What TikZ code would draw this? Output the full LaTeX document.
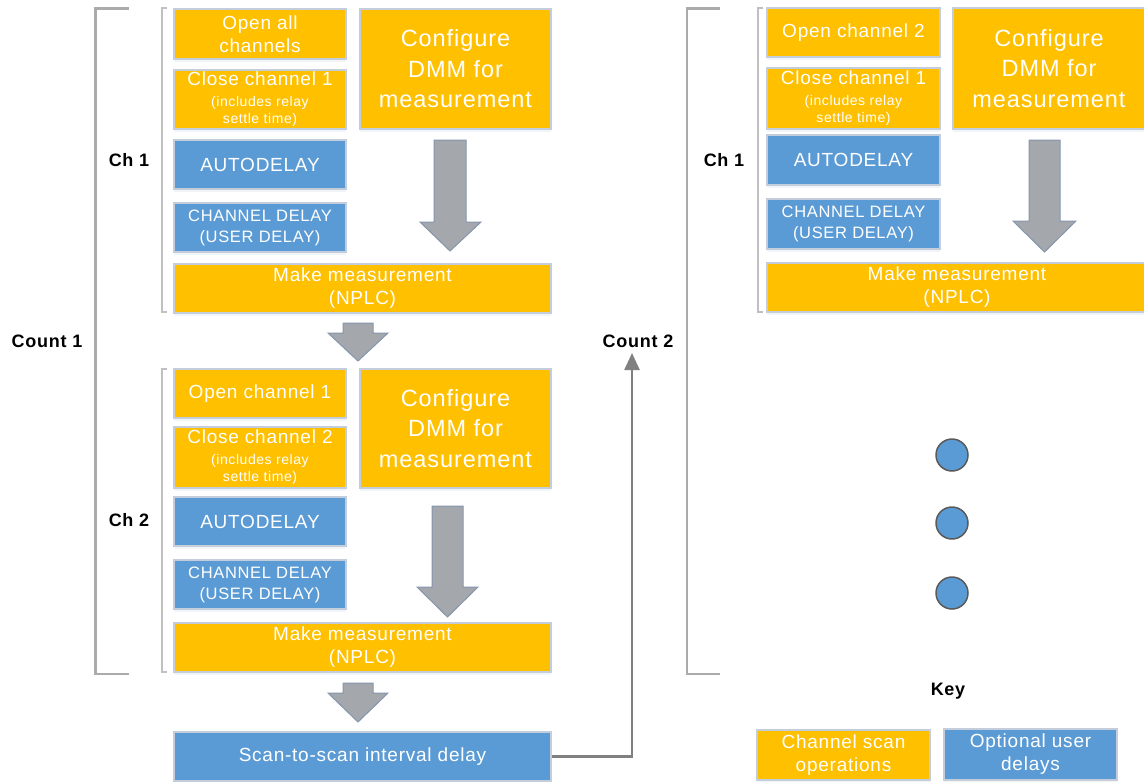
\documentclass[tikz,border=0pt]{standalone}
\usepackage{fontspec}
\setmainfont{Liberation Sans}[LetterSpace=4]
\usetikzlibrary{shadows,arrows.meta}
\definecolor{orng}{HTML}{FFC000}
\definecolor{blu}{HTML}{5B9BD5}
\definecolor{bord}{HTML}{C3CDDB}
\definecolor{arrfill}{HTML}{A4A7AB}
\definecolor{arrdraw}{HTML}{8496AE}
\definecolor{brk}{HTML}{ABABAB}
\definecolor{brklt}{HTML}{C0C0C0}
\definecolor{conn}{HTML}{808080}
\definecolor{dotdraw}{HTML}{5A5A5A}
\tikzset{
  basebox/.style={draw=bord, line width=1.5pt, text=white, align=center, inner sep=0pt,
    drop shadow={opacity=0.35, fill=bord!60, shadow xshift=0pt, shadow yshift=-2.5pt}},
  obox/.style={basebox, fill=orng},
  bbox/.style={basebox, fill=blu},
  ftmain/.style={font=\fontsize{19}{23}\selectfont},
  ftbig/.style={font=\fontsize{23.5}{30.5}\selectfont},
  ftcap/.style={font=\fontsize{16.5}{21}\selectfont},
  ftsmall/.style={font=\fontsize{14}{17}\selectfont},
  lbl/.style={font=\fontsize{18}{20}\selectfont\bfseries, text=black, inner sep=0pt},
  blockarrow/.style={fill=arrfill, draw=arrdraw, line width=1pt, line join=miter},
  brkline/.style={draw=brk, line width=2.5pt},
  brkthin/.style={draw=brklt, line width=2pt},
  dotc/.style={circle, fill=blu, draw=dotdraw, line width=1.5pt, minimum size=32pt, inner sep=0pt},
}
\begin{document}
\begin{tikzpicture}[x=1pt,y=-1pt]
\useasboundingbox (0,0) rectangle (1144,782);
\begin{scope}
\clip (0,0) rectangle (1144,782);
% ---- brackets ----
\draw[brkline] (129,8.5) -- (95.5,8.5) -- (95.5,674) -- (129,674);
\draw[brkthin] (167,8) -- (162,8) -- (162,312) -- (167,312);
\draw[brkthin] (167,369) -- (162,369) -- (162,672) -- (167,672);
\draw[brkline] (720,8.5) -- (687,8.5) -- (687,674) -- (720,674);
\draw[brkthin] (763,8) -- (758,8) -- (758,312) -- (763,312);

% ---- section 1 ----
\node[obox, ftmain, minimum width=172, minimum height=50] (open1) at (260,34) {Open all\\channels};
\node[obox, ftsmall, minimum width=172, minimum height=59] (close1) at (260,99.5)
  {{\fontsize{19}{23}\selectfont Close channel 1}\\[4pt](includes relay\\settle time)};
\node[bbox, ftmain, minimum width=172, minimum height=49] (auto1) at (260,164.5) {AUTODELAY};
\node[bbox, ftcap, minimum width=172, minimum height=49] (chd1) at (260,227.5) {CHANNEL DELAY\\(USER DELAY)};
\node[obox, ftmain, minimum width=377, minimum height=49] (make1) at (362.5,288.5) {Make measurement\\(NPLC)};
\node[obox, ftbig, minimum width=191, minimum height=120] (conf1) at (455.5,69) {Configure\\DMM for\\measurement};

% ---- section 2 ----
\node[obox, ftmain, minimum width=172, minimum height=49] (open2) at (260,393.5) {Open channel 1};
\node[obox, ftsmall, minimum width=172, minimum height=61] (close2) at (260,457.5)
  {{\fontsize{19}{23}\selectfont Close channel 2}\\[4pt](includes relay\\settle time)};
\node[bbox, ftmain, minimum width=172, minimum height=49] (auto2) at (260,521.5) {AUTODELAY};
\node[bbox, ftcap, minimum width=172, minimum height=49] (chd2) at (260,584.5) {CHANNEL DELAY\\(USER DELAY)};
\node[obox, ftmain, minimum width=377, minimum height=49] (make2) at (362.5,647.5) {Make measurement\\(NPLC)};
\node[obox, ftbig, minimum width=191, minimum height=119] (conf2) at (455.5,428.5) {Configure\\DMM for\\measurement};

\node[bbox, ftmain, minimum width=377, minimum height=49] (scan) at (362.5,756.5) {Scan-to-scan interval delay};

% ---- right column ----
\node[obox, ftmain, minimum width=173, minimum height=49] (open3) at (853.5,32.5) {Open channel 2};
\node[obox, ftsmall, minimum width=173, minimum height=61] (close3) at (853.5,98.5)
  {{\fontsize{19}{23}\selectfont Close channel 1}\\[4pt](includes relay\\settle time)};
\node[bbox, ftmain, minimum width=173, minimum height=50] (auto3) at (853.5,160) {AUTODELAY};
\node[bbox, ftcap, minimum width=173, minimum height=50] (chd3) at (853.5,224) {CHANNEL DELAY\\(USER DELAY)};
\node[obox, ftmain, minimum width=380, minimum height=49] (make3) at (957,287.5) {Make measurement\\(NPLC)};
\node[obox, ftbig, minimum width=192, minimum height=121] (conf3) at (1049,68.5) {Configure\\DMM for\\measurement};

% ---- key ----
\node[lbl] (key) at (948,691) {Key};
\node[obox, ftmain, minimum width=173, minimum height=50] (k1) at (843.5,755) {Channel scan\\operations};
\node[bbox, ftmain, minimum width=173, minimum height=51] (k2) at (1030.5,754.5) {Optional user\\delays};

% ---- labels ----
\node[lbl] (count1) at (47,341) {Count 1};
\node[lbl] (ch1) at (129,160) {Ch 1};
\node[lbl] (ch2) at (129,520) {Ch 2};
\node[lbl] (count2) at (638,341) {Count 2};
\node[lbl] (ch1r) at (724,160) {Ch 1};

% ---- dots ----
\node[dotc] (d1) at (952,455) {};
\node[dotc] (d2) at (952,523) {};
\node[dotc] (d3) at (952,593) {};

% ---- block arrows ----
\draw[blockarrow] (434,140) -- (466,140) -- (466,222) -- (481,222) -- (450,251) -- (420,222) -- (434,222) -- cycle;
\draw[blockarrow] (432,506) -- (463,506) -- (463,587) -- (478,587) -- (447.5,617) -- (417,587) -- (432,587) -- cycle;
\draw[blockarrow] (1029,140) -- (1060,140) -- (1060,221) -- (1076,221) -- (1044.5,252) -- (1013,221) -- (1029,221) -- cycle;
\draw[blockarrow] (343,323) -- (373,323) -- (373,333) -- (388,333) -- (358,361) -- (328,333) -- (343,333) -- cycle;
\draw[blockarrow] (343,683) -- (373,683) -- (373,693) -- (388,693) -- (358,722) -- (328,693) -- (343,693) -- cycle;

% ---- connector ----
\coordinate (c2in) at (632,353);
\draw[conn, line width=2.5pt, -{Triangle[length=17pt,width=15pt]}] (scan.east) -| (c2in);
\end{scope}
\end{tikzpicture}
\end{document}
